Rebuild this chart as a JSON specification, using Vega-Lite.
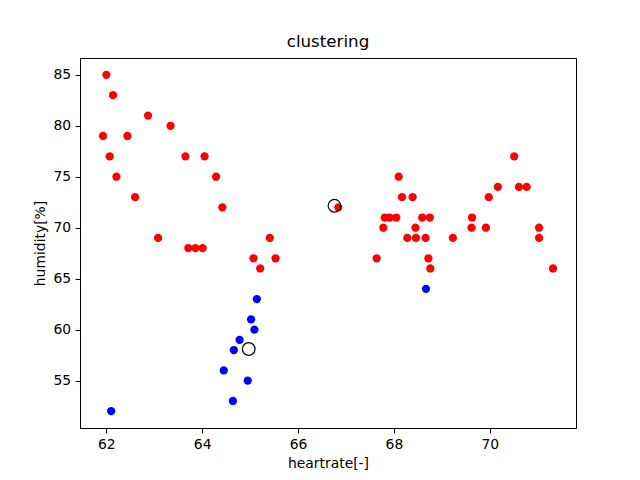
{
  "$schema": "https://vega.github.io/schema/vega-lite/v6.json",
  "autosize": "none",
  "width": 496,
  "height": 370,
  "padding": {"left": 80, "top": 58, "right": 64, "bottom": 52},
  "background": "white",
  "config": {
    "font": "DejaVu Sans",
    "view": {"stroke": "black", "strokeWidth": 1},
    "axis": {
      "grid": false,
      "domainColor": "black",
      "tickColor": "black",
      "tickSize": 4.9,
      "labelPadding": 4.5,
      "labelFontSize": 13.9,
      "labelColor": "black",
      "labelFont": "DejaVu Sans",
      "titleFont": "DejaVu Sans",
      "titleFontSize": 13.9,
      "titleFontWeight": "normal",
      "titleColor": "black",
      "titlePadding": 5
    },
    "title": {"font": "DejaVu Sans", "fontSize": 16.7, "fontWeight": "normal", "color": "black", "offset": 7}
  },
  "title": "clustering",
  "datasets": {
    "points": [
      {"heartrate": 62.0, "humidity": 85, "cluster": "0"},
      {"heartrate": 62.14, "humidity": 83, "cluster": "0"},
      {"heartrate": 61.93, "humidity": 79, "cluster": "0"},
      {"heartrate": 62.44, "humidity": 79, "cluster": "0"},
      {"heartrate": 62.07, "humidity": 77, "cluster": "0"},
      {"heartrate": 62.21, "humidity": 75, "cluster": "0"},
      {"heartrate": 62.87, "humidity": 81, "cluster": "0"},
      {"heartrate": 63.34, "humidity": 80, "cluster": "0"},
      {"heartrate": 62.6, "humidity": 73, "cluster": "0"},
      {"heartrate": 63.65, "humidity": 77, "cluster": "0"},
      {"heartrate": 64.05, "humidity": 77, "cluster": "0"},
      {"heartrate": 64.29, "humidity": 75, "cluster": "0"},
      {"heartrate": 64.42, "humidity": 72, "cluster": "0"},
      {"heartrate": 63.08, "humidity": 69, "cluster": "0"},
      {"heartrate": 63.71, "humidity": 68, "cluster": "0"},
      {"heartrate": 63.86, "humidity": 68, "cluster": "0"},
      {"heartrate": 64.01, "humidity": 68, "cluster": "0"},
      {"heartrate": 65.41, "humidity": 69, "cluster": "0"},
      {"heartrate": 65.07, "humidity": 67, "cluster": "0"},
      {"heartrate": 65.53, "humidity": 67, "cluster": "0"},
      {"heartrate": 65.21, "humidity": 66, "cluster": "0"},
      {"heartrate": 66.84, "humidity": 72, "cluster": "0"},
      {"heartrate": 68.10, "humidity": 75, "cluster": "0"},
      {"heartrate": 68.17, "humidity": 73, "cluster": "0"},
      {"heartrate": 68.39, "humidity": 73, "cluster": "0"},
      {"heartrate": 67.81, "humidity": 71, "cluster": "0"},
      {"heartrate": 67.91, "humidity": 71, "cluster": "0"},
      {"heartrate": 68.05, "humidity": 71, "cluster": "0"},
      {"heartrate": 68.59, "humidity": 71, "cluster": "0"},
      {"heartrate": 68.75, "humidity": 71, "cluster": "0"},
      {"heartrate": 67.78, "humidity": 70, "cluster": "0"},
      {"heartrate": 68.45, "humidity": 70, "cluster": "0"},
      {"heartrate": 68.28, "humidity": 69, "cluster": "0"},
      {"heartrate": 68.46, "humidity": 69, "cluster": "0"},
      {"heartrate": 68.66, "humidity": 69, "cluster": "0"},
      {"heartrate": 69.23, "humidity": 69, "cluster": "0"},
      {"heartrate": 67.64, "humidity": 67, "cluster": "0"},
      {"heartrate": 68.72, "humidity": 67, "cluster": "0"},
      {"heartrate": 68.76, "humidity": 66, "cluster": "0"},
      {"heartrate": 69.63, "humidity": 71, "cluster": "0"},
      {"heartrate": 69.62, "humidity": 70, "cluster": "0"},
      {"heartrate": 69.92, "humidity": 70, "cluster": "0"},
      {"heartrate": 69.98, "humidity": 73, "cluster": "0"},
      {"heartrate": 70.17, "humidity": 74, "cluster": "0"},
      {"heartrate": 70.61, "humidity": 74, "cluster": "0"},
      {"heartrate": 70.77, "humidity": 74, "cluster": "0"},
      {"heartrate": 70.51, "humidity": 77, "cluster": "0"},
      {"heartrate": 71.03, "humidity": 70, "cluster": "0"},
      {"heartrate": 71.03, "humidity": 69, "cluster": "0"},
      {"heartrate": 71.32, "humidity": 66, "cluster": "0"},
      {"heartrate": 65.14, "humidity": 63, "cluster": "1"},
      {"heartrate": 65.02, "humidity": 61, "cluster": "1"},
      {"heartrate": 65.09, "humidity": 60, "cluster": "1"},
      {"heartrate": 64.78, "humidity": 59, "cluster": "1"},
      {"heartrate": 64.66, "humidity": 58, "cluster": "1"},
      {"heartrate": 64.45, "humidity": 56, "cluster": "1"},
      {"heartrate": 64.95, "humidity": 55, "cluster": "1"},
      {"heartrate": 64.64, "humidity": 53, "cluster": "1"},
      {"heartrate": 62.10, "humidity": 52, "cluster": "1"},
      {"heartrate": 68.67, "humidity": 64, "cluster": "1"}
    ],
    "centroids": [
      {"heartrate": 66.76, "humidity": 72.15},
      {"heartrate": 64.97, "humidity": 58.1}
    ]
  },
  "layer": [
    {
      "data": {"name": "points"},
      "mark": {"type": "point", "shape": "circle", "filled": true, "size": 68, "opacity": 1},
      "encoding": {
        "x": {"field": "heartrate", "type": "quantitative", "scale": {"domain": [61.45, 71.8], "nice": false, "zero": false},
              "axis": {"title": "heartrate[-]", "values": [62, 64, 66, 68, 70]}},
        "y": {"field": "humidity", "type": "quantitative", "scale": {"domain": [50.35, 86.65], "nice": false, "zero": false},
              "axis": {"title": "humidity[%]", "values": [55, 60, 65, 70, 75, 80, 85]}},
        "color": {"field": "cluster", "type": "nominal", "scale": {"domain": ["0", "1"], "range": ["#ff0000", "#0000ff"]}, "legend": null}
      }
    },
    {
      "data": {"name": "centroids"},
      "mark": {"type": "point", "shape": "circle", "filled": false, "size": 160, "stroke": "black", "strokeWidth": 1.2, "opacity": 1},
      "encoding": {
        "x": {"field": "heartrate", "type": "quantitative"},
        "y": {"field": "humidity", "type": "quantitative"}
      }
    }
  ]
}
